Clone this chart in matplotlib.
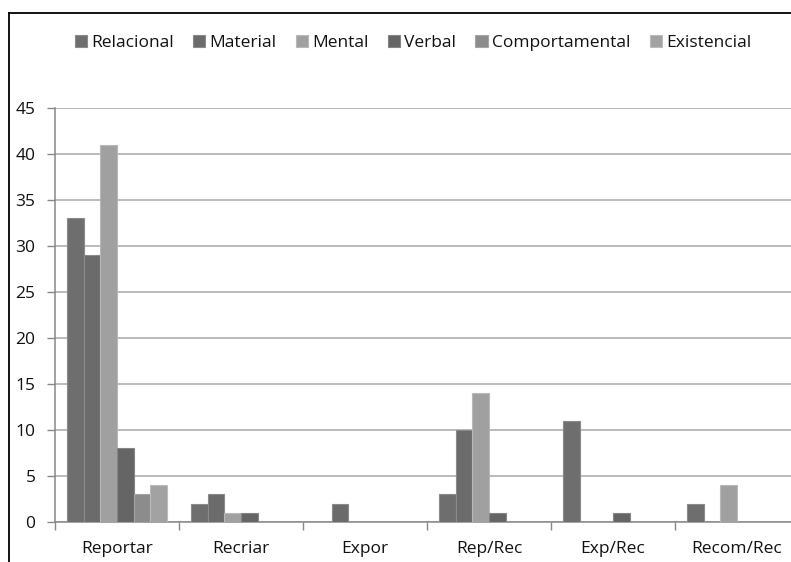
import matplotlib
matplotlib.use("Agg")
import matplotlib.pyplot as plt
from matplotlib.lines import Line2D
import numpy as np

plt.rcParams['font.family'] = ['Open Sans', 'DejaVu Sans']

categories = ["Reportar", "Recriar", "Expor", "Rep/Rec", "Exp/Rec", "Recom/Rec"]
series_names = ["Relacional", "Material", "Mental", "Verbal", "Comportamental", "Existencial"]
relacional = [33, 2, 0, 3, 11, 2]
material = [29, 3, 2, 10, 0, 0]
mental = [41, 1, 0, 14, 0, 4]
verbal = [8, 1, 0, 1, 1, 0]
comportamental = [3, 0, 0, 0, 0, 0]
existencial = [4, 0, 0, 0, 0, 0]
yticks = [0, 5, 10, 15, 20, 25, 30, 35, 40, 45]

series = [relacional, material, mental, verbal, comportamental, existencial]
colors = ["#6e6e6e", "#6b6b6b", "#a0a0a0", "#656565", "#8c8c8c", "#a2a2a2"]
edges = ["#8a8a8a", "#8a8a8a", "#b8b8b8", "#858585", "#a5a5a5", "#bbbbbb"]

W, H = 791, 562
fig = plt.figure(figsize=(W / 100, H / 100), dpi=100)
ax = fig.add_axes([55 / W, 40 / H, 744 / W, 414 / H])

x = np.arange(len(categories))
bw = 0.8 / len(series)
for i, (vals, name) in enumerate(zip(series, series_names)):
    offs = -0.4 + bw * (i + 0.5)
    ax.bar(x + offs, vals, width=bw, color=colors[i], edgecolor=edges[i],
           linewidth=0.8, label=name, zorder=3)

fs = 12.5
ax.set_xlim(-0.5, len(categories) - 0.5)
ax.set_ylim(0, 45)
ax.set_yticks(yticks)
ax.set_yticklabels([str(v) for v in yticks], fontsize=fs, color="#111111")
ax.set_xticks(x)
ax.set_xticklabels(categories, fontsize=fs, color="#111111")
ax.set_xticks(np.arange(-0.5, len(categories) + 0.5, 1), minor=True)
ax.tick_params(axis='x', which='major', length=0, pad=14)
ax.tick_params(axis='x', which='minor', length=6, color="#888888", width=1)
ax.tick_params(axis='y', length=6, color="#888888", width=1, pad=8)

ax.yaxis.grid(True, color="#a8a8a8", linewidth=1.1, zorder=0)
ax.set_axisbelow(True)
for s in ["top", "right"]:
    ax.spines[s].set_visible(False)
for s in ["left", "bottom"]:
    ax.spines[s].set_color("#888888")
    ax.spines[s].set_linewidth(1.1)

leg = fig.legend(loc="center", bbox_to_anchor=(413 / W, 1 - 43 / H), ncol=6,
                 frameon=False, fontsize=fs, handlelength=0.7, handleheight=0.7,
                 handletextpad=0.25, columnspacing=1.1)
for t in leg.get_texts():
    t.set_color("#111111")

# outer frame
fig.add_artist(Line2D([9 / W, 9 / W], [0, 1 - 13 / H], transform=fig.transFigure,
                      color="black", linewidth=1.3))
fig.add_artist(Line2D([9 / W, 1], [1 - 13 / H, 1 - 13 / H], transform=fig.transFigure,
                      color="black", linewidth=1.3))

fig.savefig("out.png", dpi=100)
